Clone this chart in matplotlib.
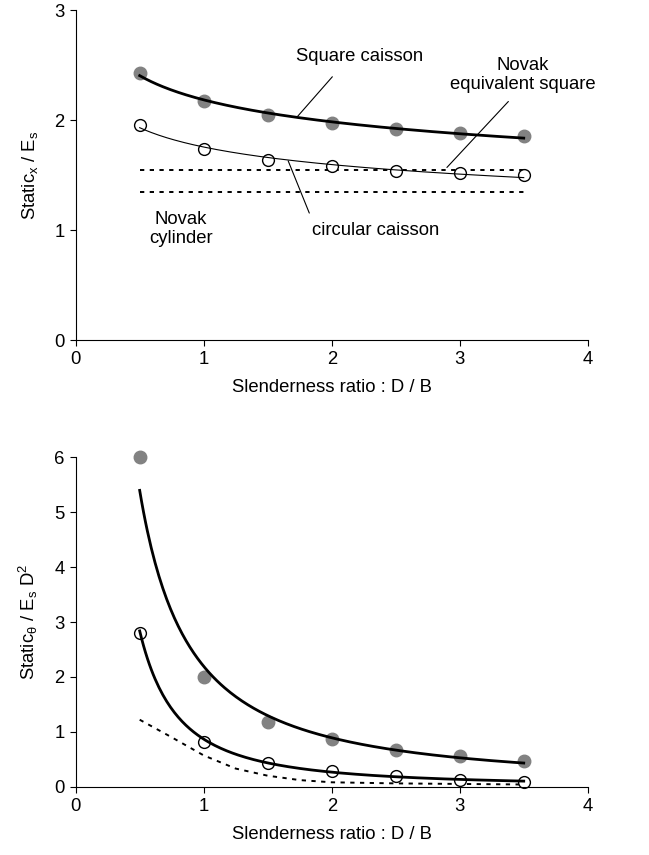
import numpy as np
import matplotlib
matplotlib.use("Agg")
import matplotlib.pyplot as plt

plt.rcParams['font.family'] = ['Liberation Sans', 'DejaVu Sans']
plt.rcParams['mathtext.fontset'] = 'custom'
plt.rcParams['mathtext.rm'] = 'Liberation Sans'
plt.rcParams['mathtext.it'] = 'Liberation Sans:italic'
FS = 13.3
plt.rcParams['font.size'] = FS

# ---- data ----
slenderness = [0.5, 1.0, 1.5, 2.0, 2.5, 3.0, 3.5]

kx_square = [2.43, 2.17, 2.05, 1.97, 1.92, 1.88, 1.86]
kx_circular = [1.96, 1.74, 1.64, 1.58, 1.54, 1.52, 1.50]
novak_equiv_square_kx = 1.55
novak_cylinder_kx = 1.35
novak_x_range = [0.5, 3.5]

kt_square = [6.0, 2.0, 1.18, 0.86, 0.67, 0.55, 0.46]
kt_circular = [2.8, 0.82, 0.44, 0.29, 0.20, 0.13, 0.09]
novak_kt_x = [0.5, 0.75, 1.0, 1.25, 1.5, 1.75, 2.0, 2.5, 3.0, 3.5]
novak_kt = [1.22, 0.90, 0.57, 0.33, 0.20, 0.12, 0.08, 0.06, 0.05, 0.04]

xticks = [0, 1, 2, 3, 4]
yticks_top = [0, 1, 2, 3]
yticks_bot = [0, 1, 2, 3, 4, 5, 6]


def power_fit(x, y):
    b, lna = np.polyfit(np.log(x), np.log(y), 1)
    xs = np.linspace(min(x), max(x), 200)
    return xs, np.exp(lna) * xs ** b


GRAY = '#828282'
fig = plt.figure(figsize=(6.49, 8.55), dpi=100)
ax1 = fig.add_axes([0.1166, 0.6023, 0.789, 0.3857])
ax2 = fig.add_axes([0.1166, 0.0799, 0.789, 0.3852])

for ax in (ax1, ax2):
    ax.spines['top'].set_visible(False)
    ax.spines['right'].set_visible(False)
    ax.tick_params(direction='out', length=4, width=0.8, labelsize=FS, pad=4)
    ax.set_xlim(0, 4)
    ax.set_xticks(xticks)
    ax.set_xlabel('Slenderness ratio : D / B', fontsize=FS, labelpad=8)

# ---- top ----
ax1.set_ylim(0, 3)
ax1.set_yticks(yticks_top)
ax1.plot(slenderness, kx_square, 'o', ms=9, color=GRAY, mec=GRAY, zorder=2, clip_on=False)
ax1.plot(slenderness, kx_circular, 'o', ms=8.5, mfc='white', mec='black', mew=1.0, zorder=2,
         clip_on=False)
xs, ys = power_fit(slenderness, kx_square)
ax1.plot(xs, ys, color='black', lw=2.0, zorder=3)
xs, ys = power_fit(slenderness, kx_circular)
ax1.plot(xs, ys, color='black', lw=0.8, zorder=3)
ax1.plot(novak_x_range, [novak_equiv_square_kx] * 2, color='black', lw=1.4,
         ls=(0, (2.2, 2.8)), zorder=1)
ax1.plot(novak_x_range, [novak_cylinder_kx] * 2, color='black', lw=1.4,
         ls=(0, (2.2, 2.8)), zorder=1)
ax1.set_ylabel(r'Static$\mathregular{_{x}}$ / E$\mathregular{_{s}}$', fontsize=FS, labelpad=10)

ax1.text(2.22, 2.58, 'Square caisson', ha='center', va='center', fontsize=FS)
ax1.annotate('', xy=(1.73, 2.03), xytext=(2.005, 2.395),
             arrowprops=dict(arrowstyle='-', lw=0.8, color='black', shrinkA=0, shrinkB=0))
ax1.text(3.49, 2.41, 'Novak\nequivalent square', ha='center', va='center', fontsize=FS,
         linespacing=1.1)
ax1.annotate('', xy=(2.90, 1.57), xytext=(3.38, 2.17),
             arrowprops=dict(arrowstyle='-', lw=0.8, color='black', shrinkA=0, shrinkB=0))
ax1.text(2.34, 1.0, 'circular caisson', ha='center', va='center', fontsize=FS)
ax1.annotate('', xy=(1.825, 1.155), xytext=(1.66, 1.63),
             arrowprops=dict(arrowstyle='-', lw=0.8, color='black', shrinkA=0, shrinkB=0))
ax1.text(0.82, 1.01, 'Novak\ncylinder', ha='center', va='center', fontsize=FS,
         linespacing=1.1)

# ---- bottom ----
ax2.set_ylim(0, 6)
ax2.set_yticks(yticks_bot)
ax2.plot(slenderness, kt_square, 'o', ms=9, color=GRAY, mec=GRAY, zorder=2, clip_on=False)
ax2.plot(slenderness, kt_circular, 'o', ms=8.5, mfc='white', mec='black', mew=1.0, zorder=2,
         clip_on=False)
xs, ys = power_fit(slenderness, kt_square)
ax2.plot(xs, ys, color='black', lw=2.0, zorder=3)
xs, ys = power_fit(slenderness, kt_circular)
ax2.plot(xs, ys, color='black', lw=2.0, zorder=3)
ax2.plot(novak_kt_x, novak_kt, color='black', lw=1.4, ls=(0, (2.2, 2.8)), zorder=1)
ax2.set_ylabel(r'Static$\mathregular{_{θ}}$ / E$\mathregular{_{s}}$ D$\mathregular{^{2}}$',
               fontsize=FS, labelpad=10)

fig.savefig('out.png', dpi=100)
